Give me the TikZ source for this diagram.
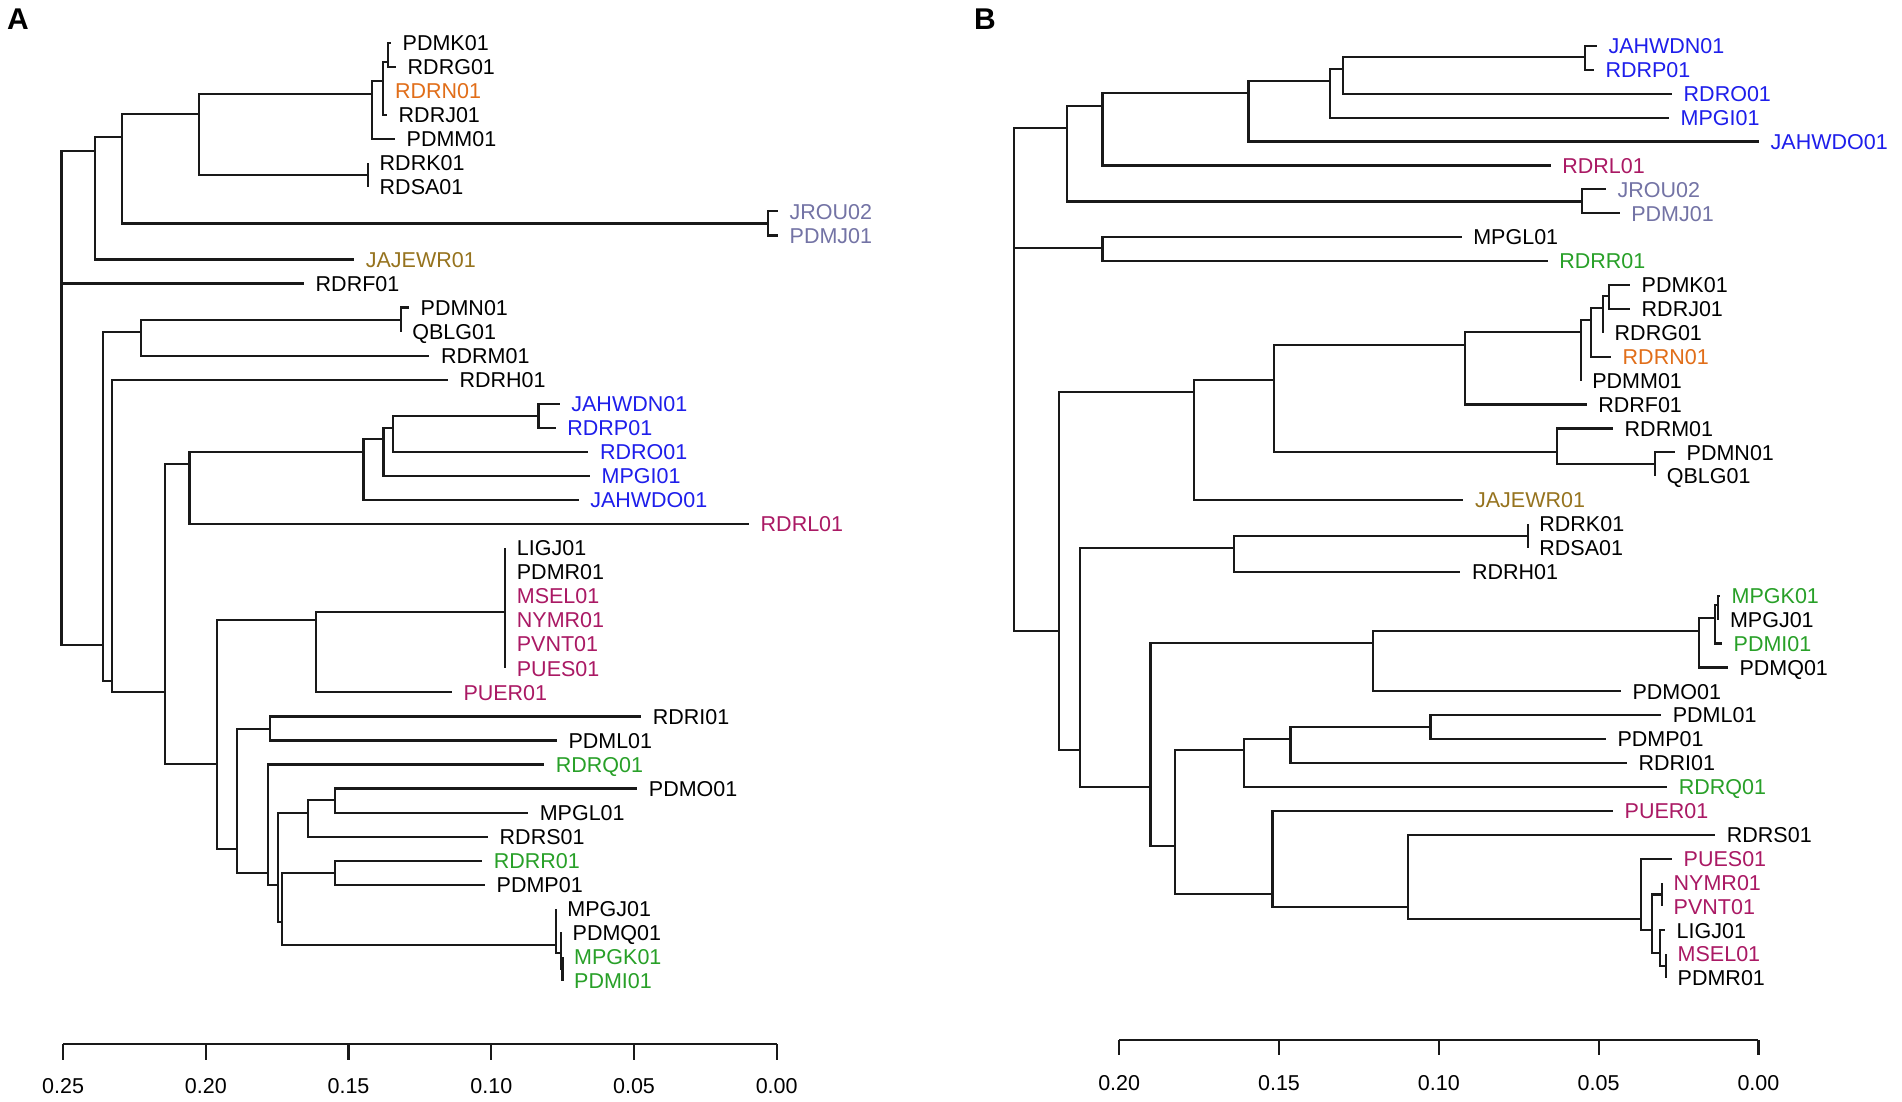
\documentclass[tikz,border=0pt]{standalone}
\usepackage{fontspec}
\setmainfont{Liberation Sans}
\definecolor{cblue}{RGB}{30,30,235}
\definecolor{cmag}{RGB}{170,25,100}
\definecolor{corange}{RGB}{225,110,25}
\definecolor{colive}{RGB}{150,115,30}
\definecolor{cgrey}{RGB}{115,115,165}
\definecolor{cgreen}{RGB}{40,160,40}
\newcommand\br[2]{\foreach \cc in {#2}{\draw[brl] (#1) |- (\cc);}}
\newcommand\lf[5]{\coordinate (#1) at (#2,#3); \node[lab,text=#5] (t#1) at (#1) {#4};}
\newcommand\nd[3]{\coordinate (#1) at (#2,#3);}
\begin{document}
\begin{tikzpicture}[x=1pt,y=-1pt,
  brl/.style={line width=2.2pt,black!90},
  lab/.style={anchor=west,xshift=11.5pt,inner sep=0pt,text height=15.4pt,text depth=0pt,font=\fontsize{21.5pt}{24pt}\selectfont},
  ticklab/.style={anchor=center,inner sep=0pt,text height=15.4pt,text depth=0pt,font=\fontsize{21.5pt}{24pt}\selectfont},
  panel/.style={inner sep=0pt,font=\fontsize{30pt}{32pt}\selectfont\bfseries}]
\useasboundingbox[fill=white] (0,0) rectangle (1902,1102);
\node[panel] (pA) at (18,19) {A};
\node[panel] (pB) at (985,19) {B};
% ---------------- Panel A leaves ----------------
\lf{a0}{391}{43}{PDMK01}{black}
\lf{a1}{396}{67.05}{RDRG01}{black}
\lf{a2}{383.3}{91.1}{RDRN01}{corange}
\lf{a3}{387}{115.15}{RDRJ01}{black}
\lf{a4}{395}{139.2}{PDMM01}{black}
\lf{a5}{368}{163.25}{RDRK01}{black}
\lf{a6}{368}{187.3}{RDSA01}{black}
\lf{a7}{778}{211.35}{JROU02}{cgrey}
\lf{a8}{778}{235.4}{PDMJ01}{cgrey}
\lf{a9}{354.2}{259.45}{JAJEWR01}{colive}
\lf{a10}{304}{283.5}{RDRF01}{black}
\lf{a11}{409}{307.55}{PDMN01}{black}
\lf{a12}{400.7}{331.6}{QBLG01}{black}
\lf{a13}{429.4}{355.65}{RDRM01}{black}
\lf{a14}{447.8}{379.7}{RDRH01}{black}
\lf{a15}{559.7}{403.75}{JAHWDN01}{cblue}
\lf{a16}{555.7}{427.8}{RDRP01}{cblue}
\lf{a17}{588.4}{451.85}{RDRO01}{cblue}
\lf{a18}{590}{475.9}{MPGI01}{cblue}
\lf{a19}{578.6}{499.95}{JAHWDO01}{cblue}
\lf{a20}{749}{524}{RDRL01}{cmag}
\lf{a21}{505.2}{548.05}{LIGJ01}{black}
\lf{a22}{505.2}{572.1}{PDMR01}{black}
\lf{a23}{505.2}{596.15}{MSEL01}{cmag}
\lf{a24}{505.2}{620.2}{NYMR01}{cmag}
\lf{a25}{505.2}{644.25}{PVNT01}{cmag}
\lf{a26}{505.2}{668.3}{PUES01}{cmag}
\lf{a27}{451.8}{692.35}{PUER01}{cmag}
\lf{a28}{641.2}{716.4}{RDRI01}{black}
\lf{a29}{556.8}{740.45}{PDML01}{black}
\lf{a30}{544.2}{764.5}{RDRQ01}{cgreen}
\lf{a31}{637.2}{788.55}{PDMO01}{black}
\lf{a32}{528.1}{812.6}{MPGL01}{black}
\lf{a33}{488}{836.65}{RDRS01}{black}
\lf{a34}{482.2}{860.7}{RDRR01}{cgreen}
\lf{a35}{485}{884.75}{PDMP01}{black}
\lf{a36}{555.7}{908.8}{MPGJ01}{black}
\lf{a37}{561}{932.85}{PDMQ01}{black}
\lf{a38}{562.5}{956.9}{MPGK01}{cgreen}
\lf{a39}{562.5}{980.95}{PDMI01}{cgreen}
% ---------------- Panel A internal nodes ----------------
\nd{aR}{61.4}{283.5}
\nd{aUA}{94.7}{150.7}
\nd{aUB}{122.3}{137.3}
\nd{aJP}{768}{223.4}
\nd{aUC}{199.2}{114.3}
\nd{aRK}{368}{175.3}
\nd{aUD}{372}{94}
\nd{aUE}{383.3}{80.7}
\nd{aUF}{388}{62}
\nd{aLA}{103.3}{645}
\nd{aLB}{140.6}{331.7}
\nd{aPN}{400.7}{319.6}
\nd{aLC}{112}{681}
\nd{aLD}{164.8}{692}
\nd{aLE}{189.4}{464.3}
\nd{aLG}{363.4}{452.3}
\nd{aLH}{383.5}{439}
\nd{aLI}{392.7}{427.7}
\nd{aLJ}{538.5}{415.7}
\nd{aLF}{217}{764.3}
\nd{aLK}{315.7}{620}
\nd{aLM}{505.2}{612}
\nd{aLL}{237}{849}
\nd{aLN}{269.8}{729}
\nd{aLO}{267.7}{873.3}
\nd{aLP}{277.7}{885}
\nd{aLQ}{308.3}{813.3}
\nd{aLR}{335}{800}
\nd{aLS}{282.3}{921.7}
\nd{aLT}{335}{873.3}
\nd{aLU}{555.7}{945}
\nd{aLV}{560.7}{953}
\nd{aLW}{562.5}{969}
\br{aR}{aUA,a10,aLA}
\br{aUA}{aUB,a9}
\br{aUB}{aUC,aJP}
\br{aJP}{a7,a8}
\br{aUC}{aUD,aRK}
\br{aRK}{a5,a6}
\br{aUD}{aUE,a4}
\br{aUE}{aUF,a2,a3}
\br{aUF}{a0,a1}
\br{aLA}{aLB,aLC}
\br{aLB}{aPN,a13}
\br{aPN}{a11,a12}
\br{aLC}{a14,aLD}
\br{aLD}{aLE,aLF}
\br{aLE}{aLG,a20}
\br{aLG}{aLH,a19}
\br{aLH}{aLI,a18}
\br{aLI}{aLJ,a17}
\br{aLJ}{a15,a16}
\br{aLF}{aLK,aLL}
\br{aLK}{aLM,a27}
\br{aLM}{a21,a22,a23,a24,a25,a26}
\br{aLL}{aLN,aLO}
\br{aLN}{a28,a29}
\br{aLO}{a30,aLP}
\br{aLP}{aLQ,aLS}
\br{aLQ}{aLR,a33}
\br{aLR}{a31,a32}
\br{aLS}{aLT,aLU}
\br{aLT}{a34,a35}
\br{aLU}{a36,aLV}
\br{aLV}{a37,aLW}
\br{aLW}{a38,a39}
% ---------------- Panel B leaves ----------------
\lf{b0}{1596.8}{46}{JAHWDN01}{cblue}
\lf{b1}{1593.8}{69.9}{RDRP01}{cblue}
\lf{b2}{1672}{93.8}{RDRO01}{cblue}
\lf{b3}{1668.9}{117.7}{MPGI01}{cblue}
\lf{b4}{1759}{141.6}{JAHWDO01}{cblue}
\lf{b5}{1550.6}{165.5}{RDRL01}{cmag}
\lf{b6}{1605.8}{189.4}{JROU02}{cgrey}
\lf{b7}{1619.6}{213.3}{PDMJ01}{cgrey}
\lf{b8}{1461.6}{237.2}{MPGL01}{black}
\lf{b9}{1547.6}{261.1}{RDRR01}{cgreen}
\lf{b10}{1630}{285}{PDMK01}{black}
\lf{b11}{1630}{308.9}{RDRJ01}{black}
\lf{b12}{1603}{332.8}{RDRG01}{black}
\lf{b13}{1611}{356.7}{RDRN01}{corange}
\lf{b14}{1580.6}{380.6}{PDMM01}{black}
\lf{b15}{1586.6}{404.5}{RDRF01}{black}
\lf{b16}{1613}{428.4}{RDRM01}{black}
\lf{b17}{1675}{452.3}{PDMN01}{black}
\lf{b18}{1655.1}{476.2}{QBLG01}{black}
\lf{b19}{1463.4}{500.1}{JAJEWR01}{colive}
\lf{b20}{1527.7}{524}{RDRK01}{black}
\lf{b21}{1527.7}{547.9}{RDSA01}{black}
\lf{b22}{1460.4}{571.8}{RDRH01}{black}
\lf{b23}{1720}{595.7}{MPGK01}{cgreen}
\lf{b24}{1718.3}{619.6}{MPGJ01}{black}
\lf{b25}{1722}{643.5}{PDMI01}{cgreen}
\lf{b26}{1727.8}{667.4}{PDMQ01}{black}
\lf{b27}{1620.9}{691.3}{PDMO01}{black}
\lf{b28}{1661.1}{715.2}{PDML01}{black}
\lf{b29}{1605.8}{739.1}{PDMP01}{black}
\lf{b30}{1626.9}{763}{RDRI01}{black}
\lf{b31}{1667.1}{786.9}{RDRQ01}{cgreen}
\lf{b32}{1613}{810.8}{PUER01}{cmag}
\lf{b33}{1715.2}{834.7}{RDRS01}{black}
\lf{b34}{1672}{858.6}{PUES01}{cmag}
\lf{b35}{1662}{882.5}{NYMR01}{cmag}
\lf{b36}{1662}{906.4}{PVNT01}{cmag}
\lf{b37}{1665}{930.3}{LIGJ01}{black}
\lf{b38}{1666}{954.2}{MSEL01}{cmag}
\lf{b39}{1666}{978.1}{PDMR01}{black}
% ---------------- Panel B internal nodes ----------------
\nd{bR}{1014.1}{248.3}
\nd{bU1}{1067}{128.3}
\nd{bJP}{1581.8}{201.4}
\nd{bU2}{1102.4}{106}
\nd{bU3}{1248.4}{93.3}
\nd{bU4}{1330}{81}
\nd{bU5}{1343.3}{69.3}
\nd{bU6}{1584.8}{57.3}
\nd{bMB}{1102.4}{248.3}
\nd{bL1}{1059.1}{631}
\nd{bL2}{1194.3}{392.3}
\nd{bL4}{1274.2}{380}
\nd{bL5}{1464.7}{345}
\nd{bL7}{1580.6}{332.3}
\nd{bL8}{1590.8}{320}
\nd{bL9}{1603}{308.3}
\nd{bL10}{1608.8}{296}
\nd{bL6}{1556.6}{451.7}
\nd{bL11}{1655.1}{464.3}
\nd{bL3}{1080.2}{750}
\nd{bL12}{1234}{547.7}
\nd{bRK}{1527.7}{536}
\nd{bL13}{1150.4}{786.7}
\nd{bL14}{1373.3}{642.7}
\nd{bL16}{1699}{631}
\nd{bL17}{1715}{618.3}
\nd{bL18}{1718.3}{605}
\nd{bL15}{1175}{846}
\nd{bL19}{1244.2}{750}
\nd{bL21}{1290.4}{739}
\nd{bL22}{1430.4}{726.7}
\nd{bL20}{1272.4}{894.3}
\nd{bL23}{1407.6}{906.7}
\nd{bL24}{1640.7}{919}
\nd{bL25}{1652}{930}
\nd{bL26}{1662}{894.5}
\nd{bL27}{1660}{953}
\nd{bL28}{1666}{966}
\br{bR}{bU1,bMB,bL1}
\br{bU1}{bU2,bJP}
\br{bJP}{b6,b7}
\br{bU2}{bU3,b5}
\br{bU3}{bU4,b4}
\br{bU4}{bU5,b3}
\br{bU5}{bU6,b2}
\br{bU6}{b0,b1}
\br{bMB}{b8,b9}
\br{bL1}{bL2,bL3}
\br{bL2}{bL4,b19}
\br{bL4}{bL5,bL6}
\br{bL5}{bL7,b15}
\br{bL7}{bL8,b14}
\br{bL8}{bL9,b13}
\br{bL9}{bL10,b12}
\br{bL10}{b10,b11}
\br{bL6}{b16,bL11}
\br{bL11}{b17,b18}
\br{bL3}{bL12,bL13}
\br{bL12}{bRK,b22}
\br{bRK}{b20,b21}
\br{bL13}{bL14,bL15}
\br{bL14}{bL16,b27}
\br{bL16}{bL17,b26}
\br{bL17}{bL18,b25}
\br{bL18}{b23,b24}
\br{bL15}{bL19,bL20}
\br{bL19}{bL21,b31}
\br{bL21}{bL22,b30}
\br{bL22}{b28,b29}
\br{bL20}{b32,bL23}
\br{bL23}{b33,bL24}
\br{bL24}{b34,bL25}
\br{bL25}{bL26,bL27}
\br{bL26}{b35,b36}
\br{bL27}{b37,bL28}
\br{bL28}{b38,b39}
% ---------------- Axes ----------------
\coordinate (axA0) at (63.1,1044);
\coordinate (axA1) at (776.7,1044);
\draw[brl] (axA0) -- (axA1);
\foreach \xx/\tl in {63.1/0.25,205.8/0.20,348.5/0.15,491.3/0.10,634.0/0.05,776.7/0.00}{
  \draw[brl] (\xx,1044) -- (\xx,1060);
  \node[ticklab] at (\xx,1086) {\tl};
}
\coordinate (axB0) at (1119.2,1040);
\coordinate (axB1) at (1758.4,1040);
\draw[brl] (axB0) -- (axB1);
\foreach \xx/\tl in {1119.2/0.20,1279.0/0.15,1438.8/0.10,1598.6/0.05,1758.4/0.00}{
  \draw[brl] (\xx,1040) -- (\xx,1055);
  \node[ticklab] at (\xx,1083) {\tl};
}
\end{tikzpicture}
\end{document}
